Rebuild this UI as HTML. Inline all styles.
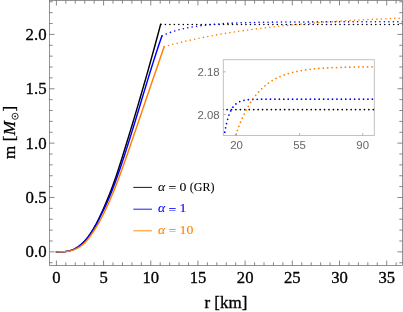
<!DOCTYPE html>
<html><head><meta charset="utf-8"><title>plot</title>
<style>html,body{margin:0;padding:0;background:#fff;overflow:hidden}svg{display:block}text{font-family:"Liberation Serif",serif;fill:#000;stroke:#000;stroke-width:0.3px}svg{will-change:transform}.s{font-family:"Liberation Sans",sans-serif;fill:#666;stroke:none}</style></head><body>
<svg width="403" height="312" viewBox="0 0 403 312">
<rect width="403" height="312" fill="#fff"/>
<defs><clipPath id="cm"><rect x="49.5" y="0.5" width="353.0" height="265.0"/></clipPath><clipPath id="ci"><rect x="223.3" y="59.7" width="151.8" height="75.8"/></clipPath></defs>
<g clip-path="url(#cm)" fill="none">
<path d="M55.74,251.85 L56.40,251.85 L58.17,251.85 L59.94,251.83 L61.71,251.78 L63.48,251.67 L65.25,251.51 L67.02,251.26 L68.79,250.91 L70.56,250.45 L72.33,249.86 L74.10,249.12 L75.86,248.22 L77.63,247.15 L79.40,245.89 L81.17,244.43 L82.94,242.78 L84.71,240.93 L86.48,238.87 L88.25,236.62 L90.02,234.16 L91.79,231.49 L93.56,228.59 L95.33,225.47 L97.10,222.11 L98.87,218.57 L100.64,214.86 L102.41,210.97 L104.18,206.93 L105.95,202.77 L107.72,198.59 L109.49,194.33 L111.26,189.84 L113.02,185.07 L114.79,180.10 L116.56,174.92 L118.33,169.57 L120.10,164.06 L121.87,158.44 L123.64,152.74 L125.41,147.01 L127.18,141.24 L128.95,135.45 L130.72,129.62 L132.49,123.76 L134.26,117.85 L136.03,111.87 L137.80,105.83 L139.57,99.78 L141.34,93.74 L143.11,87.67 L144.88,81.56 L146.65,75.38 L148.41,69.10 L150.18,62.76 L151.95,56.39 L153.72,49.98 L155.49,43.52 L157.26,37.00 L159.03,30.39 L160.80,23.68" stroke="#000000" stroke-width="1.45" stroke-linejoin="round"/>
<path d="M55.74,251.85 L56.40,251.85 L58.19,251.85 L59.98,251.83 L61.77,251.77 L63.56,251.67 L65.35,251.50 L67.14,251.24 L68.93,250.89 L70.72,250.42 L72.51,249.82 L74.30,249.07 L76.10,248.16 L77.89,247.08 L79.68,245.80 L81.47,244.33 L83.26,242.65 L85.05,240.78 L86.84,238.70 L88.63,236.41 L90.42,233.90 L92.21,231.26 L94.00,228.48 L95.79,225.48 L97.58,222.13 L99.37,218.47 L101.16,214.67 L102.95,211.06 L104.74,207.57 L106.53,203.80 L108.32,199.72 L110.11,195.43 L111.90,190.95 L113.70,186.31 L115.49,181.51 L117.28,176.56 L119.07,171.46 L120.86,166.22 L122.65,160.87 L124.44,155.42 L126.23,149.88 L128.02,144.28 L129.81,138.60 L131.60,132.85 L133.39,127.05 L135.18,121.21 L136.97,115.33 L138.76,109.42 L140.55,103.50 L142.34,97.57 L144.13,91.66 L145.92,85.76 L147.71,79.90 L149.50,74.08 L151.29,68.31 L153.09,62.61 L154.88,56.98 L156.67,51.45 L158.46,46.01 L160.25,40.67 L162.04,35.45" stroke="#0000ff" stroke-width="1.45" stroke-linejoin="round"/>
<path d="M55.74,251.85 L56.40,251.85 L58.23,251.85 L60.05,251.83 L61.88,251.78 L63.70,251.69 L65.53,251.54 L67.35,251.32 L69.18,251.01 L71.00,250.60 L72.83,250.08 L74.65,249.42 L76.48,248.62 L78.30,247.66 L80.13,246.53 L81.95,245.20 L83.78,243.67 L85.60,241.89 L87.43,239.84 L89.25,237.53 L91.08,234.97 L92.90,232.25 L94.73,229.50 L96.55,226.67 L98.38,223.58 L100.20,220.26 L102.03,216.77 L103.85,213.15 L105.68,209.44 L107.50,205.60 L109.33,201.54 L111.15,197.31 L112.98,192.93 L114.80,188.39 L116.63,183.72 L118.45,178.92 L120.28,174.01 L122.10,168.99 L123.93,163.88 L125.75,158.69 L127.58,153.43 L129.40,148.14 L131.23,142.83 L133.05,137.52 L134.88,132.21 L136.70,126.89 L138.53,121.57 L140.35,116.23 L142.18,110.86 L144.00,105.46 L145.83,100.08 L147.65,94.73 L149.48,89.41 L151.30,84.10 L153.13,78.81 L154.95,73.52 L156.78,68.23 L158.60,62.90 L160.43,57.54 L162.25,52.15 L164.08,46.75" stroke="#ff8000" stroke-width="1.45" stroke-linejoin="round"/>
<path d="M160.80,24.43 L162.90,24.43 L164.99,24.43 L167.09,24.43 L169.19,24.43 L171.28,24.43 L173.38,24.43 L175.48,24.43 L177.57,24.43 L179.67,24.43 L181.77,24.43 L183.86,24.43 L185.96,24.43 L188.06,24.43 L190.15,24.43 L192.25,24.43 L194.35,24.43 L196.44,24.43 L198.54,24.43 L200.64,24.43 L202.73,24.43 L204.83,24.43 L206.92,24.43 L209.02,24.43 L211.12,24.43 L213.21,24.43 L215.31,24.43 L217.41,24.43 L219.50,24.43 L221.60,24.43 L223.70,24.43 L225.79,24.43 L227.89,24.43 L229.99,24.43 L232.08,24.43 L234.18,24.43 L236.28,24.43 L238.37,24.43 L240.47,24.43 L242.57,24.43 L244.66,24.43 L246.76,24.43 L248.86,24.43 L250.95,24.43 L253.05,24.43 L255.14,24.43 L257.24,24.43 L259.34,24.43 L261.43,24.43 L263.53,24.43 L265.63,24.43 L267.72,24.43 L269.82,24.43 L271.92,24.43 L274.01,24.43 L276.11,24.43 L278.21,24.43 L280.30,24.43 L282.40,24.43 L284.50,24.43 L286.59,24.43 L288.69,24.43 L290.79,24.43 L292.88,24.43 L294.98,24.43 L297.08,24.43 L299.17,24.43 L301.27,24.43 L303.36,24.43 L305.46,24.43 L307.56,24.43 L309.65,24.43 L311.75,24.43 L313.85,24.43 L315.94,24.43 L318.04,24.43 L320.14,24.43 L322.23,24.43 L324.33,24.43 L326.43,24.43 L328.52,24.43 L330.62,24.43 L332.72,24.43 L334.81,24.43 L336.91,24.43 L339.01,24.43 L341.10,24.43 L343.20,24.43 L345.30,24.43 L347.39,24.43 L349.49,24.43 L351.58,24.43 L353.68,24.43 L355.78,24.43 L357.87,24.43 L359.97,24.43 L362.07,24.43 L364.16,24.43 L366.26,24.43 L368.36,24.43 L370.45,24.43 L372.55,24.43 L374.65,24.43 L376.74,24.43 L378.84,24.43 L380.94,24.43 L383.03,24.43 L385.13,24.43 L387.23,24.43 L389.32,24.43 L391.42,24.43 L393.52,24.43 L395.61,24.43 L397.71,24.43 L399.80,24.43 L401.90,24.43 L404.00,24.43 L406.09,24.43 L408.19,24.43 L410.29,24.43" stroke="#000000" stroke-width="1.6" stroke-linecap="round" stroke-dasharray="0 4.477" stroke-dashoffset="-4.6"/>
<path d="M162.04,35.82 L164.12,34.89 L166.21,34.01 L168.30,33.20 L170.38,32.44 L172.47,31.73 L174.55,31.06 L176.64,30.45 L178.73,29.87 L180.81,29.33 L182.90,28.83 L184.99,28.36 L187.07,27.92 L189.16,27.51 L191.24,27.13 L193.33,26.77 L195.42,26.44 L197.50,26.13 L199.59,25.84 L201.67,25.57 L203.76,25.32 L205.85,25.09 L207.93,24.87 L210.02,24.66 L212.10,24.47 L214.19,24.29 L216.28,24.13 L218.36,23.97 L220.45,23.83 L222.54,23.69 L224.62,23.56 L226.71,23.45 L228.79,23.34 L230.88,23.23 L232.97,23.14 L235.05,23.05 L237.14,22.96 L239.22,22.89 L241.31,22.81 L243.40,22.75 L245.48,22.68 L247.57,22.62 L249.66,22.57 L251.74,22.52 L253.83,22.47 L255.91,22.42 L258.00,22.38 L260.09,22.34 L262.17,22.31 L264.26,22.27 L266.34,22.24 L268.43,22.21 L270.52,22.18 L272.60,22.16 L274.69,22.13 L276.78,22.11 L278.86,22.09 L280.95,22.07 L283.03,22.05 L285.12,22.04 L287.21,22.02 L289.29,22.01 L291.38,21.99 L293.46,21.98 L295.55,21.97 L297.64,21.96 L299.72,21.95 L301.81,21.94 L303.89,21.93 L305.98,21.92 L308.07,21.91 L310.15,21.90 L312.24,21.90 L314.33,21.89 L316.41,21.88 L318.50,21.88 L320.58,21.87 L322.67,21.87 L324.76,21.86 L326.84,21.86 L328.93,21.85 L331.01,21.85 L333.10,21.85 L335.19,21.84 L337.27,21.84 L339.36,21.84 L341.45,21.84 L343.53,21.83 L345.62,21.83 L347.70,21.83 L349.79,21.83 L351.88,21.82 L353.96,21.82 L356.05,21.82 L358.13,21.82 L360.22,21.82 L362.31,21.82 L364.39,21.82 L366.48,21.81 L368.56,21.81 L370.65,21.81 L372.74,21.81 L374.82,21.81 L376.91,21.81 L379.00,21.81 L381.08,21.81 L383.17,21.81 L385.25,21.81 L387.34,21.81 L389.43,21.81 L391.51,21.81 L393.60,21.81 L395.68,21.80 L397.77,21.80 L399.86,21.80 L401.94,21.80 L404.03,21.80 L406.12,21.80 L408.20,21.80 L410.29,21.80" stroke="#0000ff" stroke-width="1.6" stroke-linecap="round" stroke-dasharray="0 4.477" stroke-dashoffset="-4.6"/>
<path d="M164.08,46.63 L166.15,46.06 L168.21,45.51 L170.28,44.96 L172.35,44.42 L174.42,43.89 L176.49,43.37 L178.56,42.86 L180.63,42.36 L182.70,41.87 L184.77,41.38 L186.84,40.91 L188.90,40.44 L190.97,39.98 L193.04,39.52 L195.11,39.08 L197.18,38.64 L199.25,38.21 L201.32,37.79 L203.39,37.38 L205.46,36.97 L207.53,36.57 L209.59,36.17 L211.66,35.78 L213.73,35.40 L215.80,35.03 L217.87,34.66 L219.94,34.30 L222.01,33.95 L224.08,33.60 L226.15,33.25 L228.22,32.91 L230.28,32.58 L232.35,32.26 L234.42,31.94 L236.49,31.62 L238.56,31.31 L240.63,31.01 L242.70,30.71 L244.77,30.42 L246.84,30.13 L248.91,29.84 L250.97,29.56 L253.04,29.29 L255.11,29.02 L257.18,28.75 L259.25,28.49 L261.32,28.24 L263.39,27.99 L265.46,27.74 L267.53,27.50 L269.60,27.26 L271.66,27.02 L273.73,26.79 L275.80,26.56 L277.87,26.34 L279.94,26.12 L282.01,25.91 L284.08,25.70 L286.15,25.49 L288.22,25.28 L290.29,25.08 L292.35,24.88 L294.42,24.69 L296.49,24.50 L298.56,24.31 L300.63,24.13 L302.70,23.95 L304.77,23.77 L306.84,23.59 L308.91,23.42 L310.98,23.25 L313.04,23.08 L315.11,22.92 L317.18,22.76 L319.25,22.60 L321.32,22.45 L323.39,22.29 L325.46,22.14 L327.53,22.00 L329.60,21.85 L331.67,21.71 L333.73,21.57 L335.80,21.43 L337.87,21.30 L339.94,21.16 L342.01,21.03 L344.08,20.91 L346.15,20.78 L348.22,20.66 L350.29,20.53 L352.36,20.41 L354.42,20.30 L356.49,20.18 L358.56,20.07 L360.63,19.96 L362.70,19.85 L364.77,19.74 L366.84,19.63 L368.91,19.53 L370.98,19.42 L373.05,19.32 L375.11,19.22 L377.18,19.13 L379.25,19.03 L381.32,18.94 L383.39,18.85 L385.46,18.75 L387.53,18.66 L389.60,18.58 L391.67,18.49 L393.74,18.41 L395.80,18.32 L397.87,18.24 L399.94,18.16 L402.01,18.08 L404.08,18.00 L406.15,17.93 L408.22,17.85 L410.29,17.78" stroke="#ff8000" stroke-width="1.6" stroke-linecap="round" stroke-dasharray="0 4.477" stroke-dashoffset="-4.6"/>
</g>
<rect x="49.5" y="0.5" width="353.0" height="265.0" stroke="#6a6a6a" stroke-width="0.72" fill="none"/>
<path d="M56.4,265.5 v-5.0 M56.4,0.5 v5.0 M103.58,265.5 v-5.0 M103.58,0.5 v5.0 M150.77,265.5 v-5.0 M150.77,0.5 v5.0 M197.95,265.5 v-5.0 M197.95,0.5 v5.0 M245.14,265.5 v-5.0 M245.14,0.5 v5.0 M292.32,265.5 v-5.0 M292.32,0.5 v5.0 M339.51,265.5 v-5.0 M339.51,0.5 v5.0 M386.69,265.5 v-5.0 M386.69,0.5 v5.0 M49.5,251.85 h5.0 M402.5,251.85 h-5.0 M49.5,197.49 h5.0 M402.5,197.49 h-5.0 M49.5,143.13 h5.0 M402.5,143.13 h-5.0 M49.5,88.77 h5.0 M402.5,88.77 h-5.0 M49.5,34.41 h5.0 M402.5,34.41 h-5.0" stroke="#6a6a6a" stroke-width="0.8" fill="none"/>
<path d="M65.84,265.5 v-3.2 M65.84,0.5 v3.2 M75.27,265.5 v-3.2 M75.27,0.5 v3.2 M84.71,265.5 v-3.2 M84.71,0.5 v3.2 M94.15,265.5 v-3.2 M94.15,0.5 v3.2 M113.02,265.5 v-3.2 M113.02,0.5 v3.2 M122.46,265.5 v-3.2 M122.46,0.5 v3.2 M131.9,265.5 v-3.2 M131.9,0.5 v3.2 M141.33,265.5 v-3.2 M141.33,0.5 v3.2 M160.21,265.5 v-3.2 M160.21,0.5 v3.2 M169.64,265.5 v-3.2 M169.64,0.5 v3.2 M179.08,265.5 v-3.2 M179.08,0.5 v3.2 M188.52,265.5 v-3.2 M188.52,0.5 v3.2 M207.39,265.5 v-3.2 M207.39,0.5 v3.2 M216.83,265.5 v-3.2 M216.83,0.5 v3.2 M226.27,265.5 v-3.2 M226.27,0.5 v3.2 M235.7,265.5 v-3.2 M235.7,0.5 v3.2 M254.58,265.5 v-3.2 M254.58,0.5 v3.2 M264.01,265.5 v-3.2 M264.01,0.5 v3.2 M273.45,265.5 v-3.2 M273.45,0.5 v3.2 M282.89,265.5 v-3.2 M282.89,0.5 v3.2 M301.76,265.5 v-3.2 M301.76,0.5 v3.2 M311.2,265.5 v-3.2 M311.2,0.5 v3.2 M320.64,265.5 v-3.2 M320.64,0.5 v3.2 M330.07,265.5 v-3.2 M330.07,0.5 v3.2 M348.95,265.5 v-3.2 M348.95,0.5 v3.2 M358.38,265.5 v-3.2 M358.38,0.5 v3.2 M367.82,265.5 v-3.2 M367.82,0.5 v3.2 M377.26,265.5 v-3.2 M377.26,0.5 v3.2 M396.13,265.5 v-3.2 M396.13,0.5 v3.2 M49.5,262.72 h3.2 M402.5,262.72 h-3.2 M49.5,240.98 h3.2 M402.5,240.98 h-3.2 M49.5,230.11 h3.2 M402.5,230.11 h-3.2 M49.5,219.23 h3.2 M402.5,219.23 h-3.2 M49.5,208.36 h3.2 M402.5,208.36 h-3.2 M49.5,186.62 h3.2 M402.5,186.62 h-3.2 M49.5,175.75 h3.2 M402.5,175.75 h-3.2 M49.5,164.87 h3.2 M402.5,164.87 h-3.2 M49.5,154.0 h3.2 M402.5,154.0 h-3.2 M49.5,132.26 h3.2 M402.5,132.26 h-3.2 M49.5,121.39 h3.2 M402.5,121.39 h-3.2 M49.5,110.51 h3.2 M402.5,110.51 h-3.2 M49.5,99.64 h3.2 M402.5,99.64 h-3.2 M49.5,77.9 h3.2 M402.5,77.9 h-3.2 M49.5,67.03 h3.2 M402.5,67.03 h-3.2 M49.5,56.15 h3.2 M402.5,56.15 h-3.2 M49.5,45.28 h3.2 M402.5,45.28 h-3.2 M49.5,23.54 h3.2 M402.5,23.54 h-3.2 M49.5,12.67 h3.2 M402.5,12.67 h-3.2 M49.5,1.79 h3.2 M402.5,1.79 h-3.2" stroke="#6a6a6a" stroke-width="0.8" fill="none"/>
<g font-size="16px" text-anchor="middle">
<text transform="translate(56.40,282.7) scale(1.04,1)">0</text>
<text transform="translate(103.58,282.7) scale(1.04,1)">5</text>
<text transform="translate(150.77,282.7) scale(1.04,1)">10</text>
<text transform="translate(197.95,282.7) scale(1.04,1)">15</text>
<text transform="translate(245.14,282.7) scale(1.04,1)">20</text>
<text transform="translate(292.32,282.7) scale(1.04,1)">25</text>
<text transform="translate(339.51,282.7) scale(1.04,1)">30</text>
<text transform="translate(386.69,282.7) scale(1.04,1)">35</text>
</g>
<g font-size="16px" text-anchor="end">
<text transform="translate(46.6,257.25) scale(1.05,1)">0.0</text>
<text transform="translate(46.6,202.89) scale(1.05,1)">0.5</text>
<text transform="translate(46.6,148.53) scale(1.05,1)">1.0</text>
<text transform="translate(46.6,94.17) scale(1.05,1)">1.5</text>
<text transform="translate(46.6,39.81) scale(1.05,1)">2.0</text>
</g>
<text x="225.9" y="307.9" font-size="17px" text-anchor="middle">r [km]</text>
<g transform="translate(14.8,0) rotate(-90)" font-size="17px"><text x="-159.05" y="0">m</text><text x="-141.25" y="0">[</text><text x="-135.3" y="0" font-style="italic">M</text><text x="-111.45" y="0">]</text><circle cx="-116.3" cy="0.3" r="3.05" fill="none" stroke="#000" stroke-width="0.8"/><circle cx="-116.3" cy="0.3" r="0.9" fill="#000"/></g>
<path d="M133.3,187.4 H152.0" stroke="#000000" stroke-width="0.9" fill="none"/>
<g font-size="12px" style="fill:#000000;stroke:#000000;stroke-width:0.08px"><text transform="translate(157.9,190.9) scale(1.1,1)" font-style="italic" font-size="12.5px" style="fill:#000000;stroke:#000000;stroke-width:0.08px">α</text><text transform="translate(168.4,192.1) scale(1.15,1)" style="fill:#000000;stroke:#000000;stroke-width:0.08px">=</text><text transform="translate(179.5,190.9) scale(1.15,1)" style="fill:#000000;stroke:#000000;stroke-width:0.08px">0</text><text transform="translate(189.8,190.9) scale(1.0,1)" style="fill:#000000;stroke:#000000;stroke-width:0.08px">(GR)</text></g>
<path d="M133.3,209.2 H152.0" stroke="#0000ff" stroke-width="0.9" fill="none"/>
<g font-size="12px" style="fill:#0000ff;stroke:#0000ff;stroke-width:0.08px"><text transform="translate(157.9,212.4) scale(1.1,1)" font-style="italic" font-size="12.5px" style="fill:#0000ff;stroke:#0000ff;stroke-width:0.08px">α</text><text transform="translate(168.4,213.6) scale(1.15,1)" style="fill:#0000ff;stroke:#0000ff;stroke-width:0.08px">=</text><text transform="translate(179.5,212.4) scale(1.15,1)" style="fill:#0000ff;stroke:#0000ff;stroke-width:0.08px">1</text></g>
<path d="M133.3,230.8 H152.0" stroke="#ff8000" stroke-width="0.9" fill="none"/>
<g font-size="12px" style="fill:#ff8000;stroke:#ff8000;stroke-width:0.08px"><text transform="translate(157.9,233.5) scale(1.1,1)" font-style="italic" font-size="12.5px" style="fill:#ff8000;stroke:#ff8000;stroke-width:0.08px">α</text><text transform="translate(168.4,234.7) scale(1.15,1)" style="fill:#ff8000;stroke:#ff8000;stroke-width:0.08px">=</text><text transform="translate(179.5,233.5) scale(1.15,1)" style="fill:#ff8000;stroke:#ff8000;stroke-width:0.08px">10</text></g>
<rect x="223.3" y="59.7" width="151.0" height="75.8" fill="#fff" stroke="#bcbcbc" stroke-width="0.9"/>
<g clip-path="url(#ci)" fill="none">
<path d="M221.17,109.51 L221.70,109.51 L222.22,109.51 L222.74,109.51 L223.26,109.51 L223.78,109.51 L224.30,109.51 L224.83,109.51 L225.35,109.51 L225.87,109.51 L226.39,109.51 L226.91,109.51 L227.43,109.51 L227.96,109.51 L228.48,109.51 L229.00,109.51 L229.52,109.51 L230.04,109.51 L230.56,109.51 L231.08,109.51 L231.61,109.51 L232.13,109.51 L232.65,109.51 L233.17,109.51 L233.69,109.51 L234.21,109.51 L234.74,109.51 L235.26,109.51 L235.78,109.51 L236.30,109.51 L236.82,109.51 L237.34,109.51 L237.87,109.51 L238.39,109.51 L238.91,109.51 L239.43,109.51 L239.95,109.51 L240.47,109.51 L241.00,109.51 L241.52,109.51 L242.04,109.51 L242.56,109.51 L243.08,109.51 L243.60,109.51 L244.13,109.51 L244.65,109.51 L245.17,109.51 L245.69,109.51 L246.21,109.51 L246.73,109.51 L247.25,109.51 L247.78,109.51 L248.30,109.51 L248.82,109.51 L249.34,109.51 L249.86,109.51 L250.38,109.51 L250.91,109.51 L251.43,109.51 L251.95,109.51 L252.47,109.51 L252.99,109.51 L253.51,109.51 L254.04,109.51 L254.56,109.51 L255.08,109.51 L255.60,109.51 L256.12,109.51 L256.64,109.51 L257.17,109.51 L257.69,109.51 L258.21,109.51 L258.73,109.51 L259.25,109.51 L259.77,109.51 L260.29,109.51 L260.82,109.51 L261.34,109.51 L261.86,109.51 L262.38,109.51 L262.90,109.51 L263.42,109.51 L263.95,109.51 L264.47,109.51 L264.99,109.51 L265.51,109.51 L266.03,109.51 L266.55,109.51 L267.08,109.51 L267.60,109.51 L268.12,109.51 L268.64,109.51 L269.16,109.51 L269.68,109.51 L270.21,109.51 L270.73,109.51 L271.25,109.51 L271.77,109.51 L272.29,109.51 L272.81,109.51 L273.33,109.51 L273.86,109.51 L274.38,109.51 L274.90,109.51 L275.42,109.51 L275.94,109.51 L276.46,109.51 L276.99,109.51 L277.51,109.51 L278.03,109.51 L278.55,109.51 L279.07,109.51 L279.59,109.51 L280.12,109.51 L280.64,109.51 L281.16,109.51 L281.68,109.51 L282.20,109.51 L282.72,109.51 L283.25,109.51 L283.77,109.51 L284.29,109.51 L284.81,109.51 L285.33,109.51 L285.85,109.51 L286.37,109.51 L286.90,109.51 L287.42,109.51 L287.94,109.51 L288.46,109.51 L288.98,109.51 L289.50,109.51 L290.03,109.51 L290.55,109.51 L291.07,109.51 L291.59,109.51 L292.11,109.51 L292.63,109.51 L293.16,109.51 L293.68,109.51 L294.20,109.51 L294.72,109.51 L295.24,109.51 L295.76,109.51 L296.29,109.51 L296.81,109.51 L297.33,109.51 L297.85,109.51 L298.37,109.51 L298.89,109.51 L299.42,109.51 L299.94,109.51 L300.46,109.51 L300.98,109.51 L301.50,109.51 L302.02,109.51 L302.54,109.51 L303.07,109.51 L303.59,109.51 L304.11,109.51 L304.63,109.51 L305.15,109.51 L305.67,109.51 L306.20,109.51 L306.72,109.51 L307.24,109.51 L307.76,109.51 L308.28,109.51 L308.80,109.51 L309.33,109.51 L309.85,109.51 L310.37,109.51 L310.89,109.51 L311.41,109.51 L311.93,109.51 L312.46,109.51 L312.98,109.51 L313.50,109.51 L314.02,109.51 L314.54,109.51 L315.06,109.51 L315.58,109.51 L316.11,109.51 L316.63,109.51 L317.15,109.51 L317.67,109.51 L318.19,109.51 L318.71,109.51 L319.24,109.51 L319.76,109.51 L320.28,109.51 L320.80,109.51 L321.32,109.51 L321.84,109.51 L322.37,109.51 L322.89,109.51 L323.41,109.51 L323.93,109.51 L324.45,109.51 L324.97,109.51 L325.50,109.51 L326.02,109.51 L326.54,109.51 L327.06,109.51 L327.58,109.51 L328.10,109.51 L328.62,109.51 L329.15,109.51 L329.67,109.51 L330.19,109.51 L330.71,109.51 L331.23,109.51 L331.75,109.51 L332.28,109.51 L332.80,109.51 L333.32,109.51 L333.84,109.51 L334.36,109.51 L334.88,109.51 L335.41,109.51 L335.93,109.51 L336.45,109.51 L336.97,109.51 L337.49,109.51 L338.01,109.51 L338.54,109.51 L339.06,109.51 L339.58,109.51 L340.10,109.51 L340.62,109.51 L341.14,109.51 L341.66,109.51 L342.19,109.51 L342.71,109.51 L343.23,109.51 L343.75,109.51 L344.27,109.51 L344.79,109.51 L345.32,109.51 L345.84,109.51 L346.36,109.51 L346.88,109.51 L347.40,109.51 L347.92,109.51 L348.45,109.51 L348.97,109.51 L349.49,109.51 L350.01,109.51 L350.53,109.51 L351.05,109.51 L351.58,109.51 L352.10,109.51 L352.62,109.51 L353.14,109.51 L353.66,109.51 L354.18,109.51 L354.71,109.51 L355.23,109.51 L355.75,109.51 L356.27,109.51 L356.79,109.51 L357.31,109.51 L357.83,109.51 L358.36,109.51 L358.88,109.51 L359.40,109.51 L359.92,109.51 L360.44,109.51 L360.96,109.51 L361.49,109.51 L362.01,109.51 L362.53,109.51 L363.05,109.51 L363.57,109.51 L364.09,109.51 L364.62,109.51 L365.14,109.51 L365.66,109.51 L366.18,109.51 L366.70,109.51 L367.22,109.51 L367.75,109.51 L368.27,109.51 L368.79,109.51 L369.31,109.51 L369.83,109.51 L370.35,109.51 L370.87,109.51 L371.40,109.51 L371.92,109.51 L372.44,109.51 L372.96,109.51 L373.48,109.51 L374.00,109.51 L374.53,109.51 L375.05,109.51 L375.57,109.51 L376.09,109.51 L376.61,109.51 L377.13,109.51" stroke="#000000" stroke-width="1.75" stroke-linecap="round" stroke-dasharray="0 4.43" stroke-dashoffset="-1.5"/>
<path d="M221.17,160.57 L221.70,155.26 L222.22,150.41 L222.74,145.98 L223.26,141.93 L223.78,138.24 L224.30,134.86 L224.83,131.77 L225.35,128.95 L225.87,126.38 L226.39,124.02 L226.91,121.88 L227.43,119.91 L227.96,118.12 L228.48,116.48 L229.00,114.98 L229.52,113.61 L230.04,112.37 L230.56,111.22 L231.08,110.18 L231.61,109.23 L232.13,108.36 L232.65,107.56 L233.17,106.84 L233.69,106.17 L234.21,105.57 L234.74,105.01 L235.26,104.51 L235.78,104.04 L236.30,103.62 L236.82,103.24 L237.34,102.88 L237.87,102.56 L238.39,102.27 L238.91,102.00 L239.43,101.75 L239.95,101.53 L240.47,101.33 L241.00,101.14 L241.52,100.97 L242.04,100.81 L242.56,100.67 L243.08,100.54 L243.60,100.42 L244.13,100.31 L244.65,100.21 L245.17,100.12 L245.69,100.04 L246.21,99.96 L246.73,99.89 L247.25,99.83 L247.78,99.77 L248.30,99.72 L248.82,99.67 L249.34,99.63 L249.86,99.59 L250.38,99.55 L250.91,99.52 L251.43,99.48 L251.95,99.46 L252.47,99.43 L252.99,99.41 L253.51,99.39 L254.04,99.37 L254.56,99.35 L255.08,99.33 L255.60,99.32 L256.12,99.30 L256.64,99.29 L257.17,99.28 L257.69,99.27 L258.21,99.26 L258.73,99.25 L259.25,99.24 L259.77,99.24 L260.29,99.23 L260.82,99.22 L261.34,99.22 L261.86,99.21 L262.38,99.21 L262.90,99.20 L263.42,99.20 L263.95,99.20 L264.47,99.19 L264.99,99.19 L265.51,99.19 L266.03,99.19 L266.55,99.18 L267.08,99.18 L267.60,99.18 L268.12,99.18 L268.64,99.18 L269.16,99.17 L269.68,99.17 L270.21,99.17 L270.73,99.17 L271.25,99.17 L271.77,99.17 L272.29,99.17 L272.81,99.17 L273.33,99.17 L273.86,99.17 L274.38,99.17 L274.90,99.17 L275.42,99.17 L275.94,99.16 L276.46,99.16 L276.99,99.16 L277.51,99.16 L278.03,99.16 L278.55,99.16 L279.07,99.16 L279.59,99.16 L280.12,99.16 L280.64,99.16 L281.16,99.16 L281.68,99.16 L282.20,99.16 L282.72,99.16 L283.25,99.16 L283.77,99.16 L284.29,99.16 L284.81,99.16 L285.33,99.16 L285.85,99.16 L286.37,99.16 L286.90,99.16 L287.42,99.16 L287.94,99.16 L288.46,99.16 L288.98,99.16 L289.50,99.16 L290.03,99.16 L290.55,99.16 L291.07,99.16 L291.59,99.16 L292.11,99.16 L292.63,99.16 L293.16,99.16 L293.68,99.16 L294.20,99.16 L294.72,99.16 L295.24,99.16 L295.76,99.16 L296.29,99.16 L296.81,99.16 L297.33,99.16 L297.85,99.16 L298.37,99.16 L298.89,99.16 L299.42,99.16 L299.94,99.16 L300.46,99.16 L300.98,99.16 L301.50,99.16 L302.02,99.16 L302.54,99.16 L303.07,99.16 L303.59,99.16 L304.11,99.16 L304.63,99.16 L305.15,99.16 L305.67,99.16 L306.20,99.16 L306.72,99.16 L307.24,99.16 L307.76,99.16 L308.28,99.16 L308.80,99.16 L309.33,99.16 L309.85,99.16 L310.37,99.16 L310.89,99.16 L311.41,99.16 L311.93,99.16 L312.46,99.16 L312.98,99.16 L313.50,99.16 L314.02,99.16 L314.54,99.16 L315.06,99.16 L315.58,99.16 L316.11,99.16 L316.63,99.16 L317.15,99.16 L317.67,99.16 L318.19,99.16 L318.71,99.16 L319.24,99.16 L319.76,99.16 L320.28,99.16 L320.80,99.16 L321.32,99.16 L321.84,99.16 L322.37,99.16 L322.89,99.16 L323.41,99.16 L323.93,99.16 L324.45,99.16 L324.97,99.16 L325.50,99.16 L326.02,99.16 L326.54,99.16 L327.06,99.16 L327.58,99.16 L328.10,99.16 L328.62,99.16 L329.15,99.16 L329.67,99.16 L330.19,99.16 L330.71,99.16 L331.23,99.16 L331.75,99.16 L332.28,99.16 L332.80,99.16 L333.32,99.16 L333.84,99.16 L334.36,99.16 L334.88,99.16 L335.41,99.16 L335.93,99.16 L336.45,99.16 L336.97,99.16 L337.49,99.16 L338.01,99.16 L338.54,99.16 L339.06,99.16 L339.58,99.16 L340.10,99.16 L340.62,99.16 L341.14,99.16 L341.66,99.16 L342.19,99.16 L342.71,99.16 L343.23,99.16 L343.75,99.16 L344.27,99.16 L344.79,99.16 L345.32,99.16 L345.84,99.16 L346.36,99.16 L346.88,99.16 L347.40,99.16 L347.92,99.16 L348.45,99.16 L348.97,99.16 L349.49,99.16 L350.01,99.16 L350.53,99.16 L351.05,99.16 L351.58,99.16 L352.10,99.16 L352.62,99.16 L353.14,99.16 L353.66,99.16 L354.18,99.16 L354.71,99.16 L355.23,99.16 L355.75,99.16 L356.27,99.16 L356.79,99.16 L357.31,99.16 L357.83,99.16 L358.36,99.16 L358.88,99.16 L359.40,99.16 L359.92,99.16 L360.44,99.16 L360.96,99.16 L361.49,99.16 L362.01,99.16 L362.53,99.16 L363.05,99.16 L363.57,99.16 L364.09,99.16 L364.62,99.16 L365.14,99.16 L365.66,99.16 L366.18,99.16 L366.70,99.16 L367.22,99.16 L367.75,99.16 L368.27,99.16 L368.79,99.16 L369.31,99.16 L369.83,99.16 L370.35,99.16 L370.87,99.16 L371.40,99.16 L371.92,99.16 L372.44,99.16 L372.96,99.16 L373.48,99.16 L374.00,99.16 L374.53,99.16 L375.05,99.16 L375.57,99.16 L376.09,99.16 L376.61,99.16 L377.13,99.16" stroke="#0000ff" stroke-width="1.75" stroke-linecap="round" stroke-dasharray="0 4.43" stroke-dashoffset="-2.0"/>
<path d="M221.17,195.88 L221.70,192.97 L222.22,190.13 L222.74,187.35 L223.26,184.63 L223.78,181.97 L224.30,179.38 L224.83,176.84 L225.35,174.36 L225.87,171.93 L226.39,169.56 L226.91,167.24 L227.43,164.98 L227.96,162.76 L228.48,160.60 L229.00,158.48 L229.52,156.42 L230.04,154.39 L230.56,152.42 L231.08,150.49 L231.61,148.60 L232.13,146.76 L232.65,144.95 L233.17,143.19 L233.69,141.46 L234.21,139.78 L234.74,138.13 L235.26,136.52 L235.78,134.95 L236.30,133.41 L236.82,131.91 L237.34,130.44 L237.87,129.00 L238.39,127.60 L238.91,126.23 L239.43,124.89 L239.95,123.58 L240.47,122.29 L241.00,121.04 L241.52,119.82 L242.04,118.62 L242.56,117.45 L243.08,116.31 L243.60,115.19 L244.13,114.10 L244.65,113.03 L245.17,111.98 L245.69,110.96 L246.21,109.97 L246.73,108.99 L247.25,108.04 L247.78,107.11 L248.30,106.19 L248.82,105.30 L249.34,104.43 L249.86,103.58 L250.38,102.75 L250.91,101.94 L251.43,101.15 L251.95,100.37 L252.47,99.61 L252.99,98.87 L253.51,98.14 L254.04,97.43 L254.56,96.74 L255.08,96.06 L255.60,95.40 L256.12,94.76 L256.64,94.12 L257.17,93.50 L257.69,92.90 L258.21,92.31 L258.73,91.73 L259.25,91.17 L259.77,90.62 L260.29,90.08 L260.82,89.55 L261.34,89.03 L261.86,88.53 L262.38,88.04 L262.90,87.56 L263.42,87.09 L263.95,86.63 L264.47,86.18 L264.99,85.74 L265.51,85.31 L266.03,84.89 L266.55,84.48 L267.08,84.08 L267.60,83.68 L268.12,83.30 L268.64,82.93 L269.16,82.56 L269.68,82.20 L270.21,81.85 L270.73,81.51 L271.25,81.18 L271.77,80.85 L272.29,80.53 L272.81,80.22 L273.33,79.91 L273.86,79.62 L274.38,79.32 L274.90,79.04 L275.42,78.76 L275.94,78.49 L276.46,78.22 L276.99,77.96 L277.51,77.71 L278.03,77.46 L278.55,77.22 L279.07,76.98 L279.59,76.75 L280.12,76.52 L280.64,76.30 L281.16,76.08 L281.68,75.87 L282.20,75.66 L282.72,75.46 L283.25,75.26 L283.77,75.07 L284.29,74.88 L284.81,74.69 L285.33,74.51 L285.85,74.34 L286.37,74.16 L286.90,73.99 L287.42,73.83 L287.94,73.67 L288.46,73.51 L288.98,73.36 L289.50,73.21 L290.03,73.06 L290.55,72.92 L291.07,72.77 L291.59,72.64 L292.11,72.50 L292.63,72.37 L293.16,72.24 L293.68,72.12 L294.20,71.99 L294.72,71.87 L295.24,71.76 L295.76,71.64 L296.29,71.53 L296.81,71.42 L297.33,71.31 L297.85,71.21 L298.37,71.11 L298.89,71.01 L299.42,70.91 L299.94,70.81 L300.46,70.72 L300.98,70.63 L301.50,70.54 L302.02,70.45 L302.54,70.37 L303.07,70.29 L303.59,70.20 L304.11,70.12 L304.63,70.05 L305.15,69.97 L305.67,69.90 L306.20,69.82 L306.72,69.75 L307.24,69.68 L307.76,69.61 L308.28,69.55 L308.80,69.48 L309.33,69.42 L309.85,69.36 L310.37,69.30 L310.89,69.24 L311.41,69.18 L311.93,69.12 L312.46,69.07 L312.98,69.02 L313.50,68.96 L314.02,68.91 L314.54,68.86 L315.06,68.81 L315.58,68.76 L316.11,68.72 L316.63,68.67 L317.15,68.62 L317.67,68.58 L318.19,68.54 L318.71,68.50 L319.24,68.45 L319.76,68.41 L320.28,68.37 L320.80,68.34 L321.32,68.30 L321.84,68.26 L322.37,68.23 L322.89,68.19 L323.41,68.16 L323.93,68.12 L324.45,68.09 L324.97,68.06 L325.50,68.03 L326.02,68.00 L326.54,67.97 L327.06,67.94 L327.58,67.91 L328.10,67.88 L328.62,67.85 L329.15,67.83 L329.67,67.80 L330.19,67.78 L330.71,67.75 L331.23,67.73 L331.75,67.70 L332.28,67.68 L332.80,67.66 L333.32,67.63 L333.84,67.61 L334.36,67.59 L334.88,67.57 L335.41,67.55 L335.93,67.53 L336.45,67.51 L336.97,67.49 L337.49,67.47 L338.01,67.46 L338.54,67.44 L339.06,67.42 L339.58,67.40 L340.10,67.39 L340.62,67.37 L341.14,67.36 L341.66,67.34 L342.19,67.32 L342.71,67.31 L343.23,67.30 L343.75,67.28 L344.27,67.27 L344.79,67.25 L345.32,67.24 L345.84,67.23 L346.36,67.22 L346.88,67.20 L347.40,67.19 L347.92,67.18 L348.45,67.17 L348.97,67.16 L349.49,67.15 L350.01,67.14 L350.53,67.12 L351.05,67.11 L351.58,67.10 L352.10,67.09 L352.62,67.09 L353.14,67.08 L353.66,67.07 L354.18,67.06 L354.71,67.05 L355.23,67.04 L355.75,67.03 L356.27,67.02 L356.79,67.02 L357.31,67.01 L357.83,67.00 L358.36,66.99 L358.88,66.99 L359.40,66.98 L359.92,66.97 L360.44,66.97 L360.96,66.96 L361.49,66.95 L362.01,66.95 L362.53,66.94 L363.05,66.93 L363.57,66.93 L364.09,66.92 L364.62,66.92 L365.14,66.91 L365.66,66.90 L366.18,66.90 L366.70,66.89 L367.22,66.89 L367.75,66.88 L368.27,66.88 L368.79,66.87 L369.31,66.87 L369.83,66.87 L370.35,66.86 L370.87,66.86 L371.40,66.85 L371.92,66.85 L372.44,66.84 L372.96,66.84 L373.48,66.84 L374.00,66.83 L374.53,66.83 L375.05,66.83 L375.57,66.82 L376.09,66.82 L376.61,66.82 L377.13,66.81" stroke="#ff8000" stroke-width="1.75" stroke-linecap="round" stroke-dasharray="0 4.43" stroke-dashoffset="-1.0"/>
</g>
<path d="M236.50,135.5 v-2.4 M299.61,135.5 v-2.4 M362.71,135.5 v-2.4 M223.3,114.55 h2.4 M223.3,71.80 h2.4" stroke="#a0a0a0" stroke-width="0.8" fill="none"/>
<g class="s" font-size="11.4px">
<text class="s" x="236.50" y="149.4" text-anchor="middle">20</text>
<text class="s" x="299.61" y="149.4" text-anchor="middle">55</text>
<text class="s" x="362.71" y="149.4" text-anchor="middle">90</text>
<text class="s" x="219.6" y="118.55" text-anchor="end">2.08</text>
<text class="s" x="219.6" y="75.80" text-anchor="end">2.18</text>
</g>
</svg></body></html>
